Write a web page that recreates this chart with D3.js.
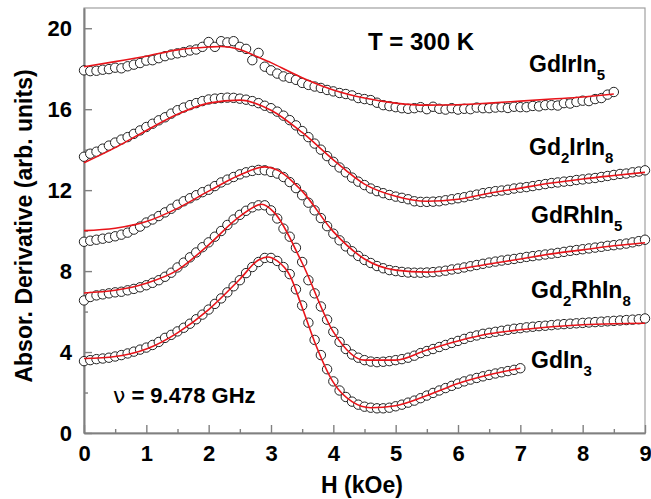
<!DOCTYPE html>
<html>
<head>
<meta charset="utf-8">
<script src="https://cdn.jsdelivr.net/npm/d3@7"></script>
<style>
  body { margin: 0; background: #fff; }
  text { font-family: Arial, "Liberation Sans", sans-serif; font-weight: bold; fill: #000; }
</style>
</head>
<body>
<div id="chart"></div>
<script>
var svgWidth = 651;
var svgHeight = 499;

var margin = { top: 8, right: 6, bottom: 66, left: 84 };
var width = svgWidth - margin.left - margin.right;
var height = svgHeight - margin.top - margin.bottom;

// measured points, one every 0.1 kOe starting at H = 0
var fieldStep = 0.1;

var ptsGdIrIn5 = [17.92, 17.88, 17.9, 17.95, 17.98, 18.05, 18.02, 18.12, 18.2, 18.28,
  18.4, 18.42, 18.52, 18.62, 18.7, 18.76, 18.82, 18.9, 18.95, 19.08,
  19.32, 19.08, 19.36, 19.3, 19.36, 19.08, 18.98, 18.42, 18.78, 18.1,
  17.92, 17.76, 17.62, 17.55, 17.45, 17.3, 17.2, 17.12, 17.05, 16.95,
  16.88, 16.8, 16.75, 16.68, 16.55, 16.5, 16.45, 16.32, 16.2, 16.15,
  16.1, 16.05, 16.02, 16.05, 16.1, 16.0, 16.12, 16.02, 15.98, 16.05,
  15.98, 16.02, 16.0, 16.08, 16.05, 16.05, 16.08, 16.1, 16.06, 16.12,
  16.1, 16.1, 16.16, 16.14, 16.2, 16.2, 16.18, 16.3, 16.28, 16.36,
  16.42, 16.4, 16.5, 16.55, 16.72, 16.85];

var ptsGd2IrIn8 = [13.65, 13.8, 13.9, 14.05, 14.2, 14.35, 14.5, 14.62, 14.78, 14.95,
  15.12, 15.28, 15.45, 15.6, 15.78, 15.95, 16.08, 16.2, 16.3, 16.4,
  16.48, 16.52, 16.55, 16.57, 16.56, 16.52, 16.47, 16.4, 16.3, 16.17,
  16.05, 15.88, 15.68, 15.46, 15.2, 14.92, 14.62, 14.3, 14.0, 13.68,
  13.4, 13.12, 12.88, 12.62, 12.42, 12.25, 12.08, 11.95, 11.85, 11.76,
  11.68, 11.62, 11.55, 11.45, 11.42, 11.42, 11.43, 11.45, 11.5, 11.55,
  11.6, 11.65, 11.72, 11.78, 11.85, 11.9, 11.95, 11.98, 12.02, 12.08,
  12.12, 12.15, 12.2, 12.25, 12.3, 12.35, 12.38, 12.42, 12.45, 12.5,
  12.53, 12.57, 12.6, 12.65, 12.7, 12.75, 12.8, 12.82, 12.88, 12.92, 12.98];

var ptsGdRhIn5 = [9.45, 9.5, 9.55, 9.6, 9.65, 9.72, 9.8, 9.9, 10.05, 10.2,
  10.4, 10.55, 10.72, 10.9, 11.08, 11.28, 11.45, 11.6, 11.75, 11.9,
  12.02, 12.2, 12.38, 12.52, 12.65, 12.78, 12.88, 12.95, 13.0, 12.98,
  12.9, 12.82, 12.65, 12.4, 12.1, 11.75, 11.38, 11.0, 10.62, 10.22,
  9.85, 9.52, 9.22, 8.98, 8.75, 8.55, 8.4, 8.25, 8.14, 8.05,
  8.0, 7.96, 7.93, 7.92, 7.92, 7.93, 7.95, 7.98, 8.02, 8.08,
  8.12, 8.18, 8.24, 8.3, 8.36, 8.42, 8.47, 8.52, 8.56, 8.6,
  8.65, 8.7, 8.74, 8.78, 8.82, 8.86, 8.9, 8.95, 9.0, 9.04,
  9.08, 9.12, 9.16, 9.2, 9.25, 9.28, 9.32, 9.36, 9.42, 9.48, 9.55];

var ptsGd2RhIn8 = [6.55, 6.72, 6.8, 6.85, 6.9, 6.95, 6.98, 7.05, 7.12, 7.2,
  7.3, 7.42, 7.55, 7.72, 7.92, 8.18, 8.42, 8.68, 8.92, 9.18,
  9.42, 9.7, 9.98, 10.28, 10.55, 10.78, 10.98, 11.15, 11.25, 11.25,
  11.0, 10.6, 10.1, 9.7, 9.15, 8.45, 7.55, 6.9, 6.25, 5.6,
  5.0, 4.5, 4.15, 3.88, 3.72, 3.6, 3.53, 3.5, 3.52, 3.55,
  3.6, 3.65, 3.72, 3.82, 3.95, 4.05, 4.15, 4.25, 4.35, 4.45,
  4.55, 4.65, 4.75, 4.82, 4.9, 4.95, 5.0, 5.05, 5.1, 5.15,
  5.18, 5.22, 5.25, 5.28, 5.3, 5.33, 5.36, 5.38, 5.4, 5.42,
  5.44, 5.46, 5.48, 5.5, 5.52, 5.54, 5.56, 5.58, 5.6, 5.62, 5.66];

var ptsGdIn3 = [3.55, 3.6, 3.65, 3.68, 3.72, 3.78, 3.85, 3.93, 4.02, 4.12,
  4.22, 4.35, 4.5, 4.7, 4.85, 5.02, 5.2, 5.4, 5.62, 5.85,
  6.1, 6.38, 6.65, 6.95, 7.25, 7.55, 7.9, 8.2, 8.45, 8.65,
  8.65, 8.5, 8.2, 7.85, 7.1, 6.3, 5.45, 4.6, 3.85, 3.15,
  2.55, 2.1, 1.78, 1.55, 1.4, 1.3, 1.25, 1.22, 1.22, 1.25,
  1.32, 1.4, 1.5, 1.6, 1.72, 1.85, 1.98, 2.1, 2.22, 2.33,
  2.44, 2.55, 2.64, 2.72, 2.8, 2.87, 2.94, 3.0, 3.06, 3.12, 3.2];

// fitted curves, [H, value]
var fitGdIrIn5 = [[0, 18.1], [0.5, 18.35], [1, 18.62], [1.5, 18.93], [2, 19.07], [2.2, 19.1],
  [2.5, 18.95], [2.77, 18.6], [3, 18.3], [3.3, 17.85], [3.6, 17.42], [4, 16.95], [4.5, 16.55],
  [5, 16.3], [5.5, 16.2], [6, 16.22], [6.5, 16.3], [7, 16.4], [7.5, 16.5], [8, 16.6], [8.5, 16.75]];

var fitGd2IrIn8 = [[0, 13.35], [0.5, 14.1], [1, 14.95], [1.5, 15.75], [2, 16.3], [2.5, 16.45],
  [3, 15.95], [3.5, 14.85], [4, 13.5], [4.5, 12.3], [5, 11.7], [5.5, 11.45], [6, 11.55],
  [6.5, 11.85], [7, 12.1], [7.5, 12.35], [8, 12.55], [8.5, 12.72], [9, 12.88]];

var fitGdRhIn5 = [[0, 10.0], [0.5, 10.12], [1, 10.45], [1.5, 11.1], [2, 11.95], [2.5, 12.75],
  [2.9, 13.15], [3.1, 13.0], [3.5, 11.95], [4, 9.95], [4.5, 8.6], [5, 8.05], [5.5, 7.95],
  [6, 8.1], [6.5, 8.35], [7, 8.6], [7.5, 8.85], [8, 9.05], [8.5, 9.25], [9, 9.4]];

var fitGd2RhIn8 = [[0, 6.92], [0.5, 7.05], [1, 7.4], [1.5, 8.05], [2, 9.3], [2.5, 10.7],
  [2.85, 11.3], [3.05, 10.9], [3.5, 8.4], [4, 5.0], [4.5, 3.6], [5, 3.6], [5.5, 4.1],
  [6, 4.55], [6.5, 4.9], [7, 5.1], [7.5, 5.25], [8, 5.35], [8.5, 5.4], [9, 5.42]];

var fitGdIn3 = [[0, 3.68], [0.5, 3.78], [1, 4.15], [1.5, 4.95], [2, 6.1], [2.5, 7.6],
  [2.8, 8.55], [2.95, 8.7], [3.1, 8.5], [3.3, 7.8], [3.5, 6.2], [3.7, 4.5], [4, 2.5],
  [4.3, 1.55], [4.6, 1.25], [5, 1.35], [5.5, 1.85], [6, 2.45], [6.5, 2.88], [7, 3.2]];

var seriesNames = [["Gd", "", "IrIn", "5"], ["Gd", "2", "IrIn", "8"], ["Gd", "", "RhIn", "5"],
  ["Gd", "2", "RhIn", "8"], ["Gd", "", "In", "3"]];
var labelPos = [[529, 72], [529, 155], [531, 223], [531, 298], [531, 368]];

var xTicks = [0, 1, 2, 3, 4, 5, 6, 7, 8, 9];
var xMinor = [0.5, 1.5, 2.5, 3.5, 4.5, 5.5, 6.5, 7.5, 8.5];
var yTicks = [0, 4, 8, 12, 16, 20];
var yMinor = [2, 6, 10, 14, 18];

var allPts = [ptsGdIrIn5, ptsGd2IrIn8, ptsGdRhIn5, ptsGd2RhIn8, ptsGdIn3];
var allFits = [fitGdIrIn5, fitGd2IrIn8, fitGdRhIn5, fitGd2RhIn8, fitGdIn3];

var svg = d3.select("#chart")
  .append("svg")
  .attr("width", svgWidth)
  .attr("height", svgHeight);

var chartGroup = svg.append("g")
  .attr("transform", `translate(${margin.left}, ${margin.top})`);

var xLinearScale = d3.scaleLinear().domain([0, 9]).range([0, width]);
var yLinearScale = d3.scaleLinear().domain([0, 21]).range([height, 0]);

// frame
chartGroup.append("rect")
  .attr("width", width)
  .attr("height", height)
  .attr("fill", "none")
  .attr("stroke", "#a0a0a0")
  .attr("stroke-width", 1.2);

// axes, ticks point inward
var bottomAxis = d3.axisBottom(xLinearScale).tickValues(xTicks).tickSize(-8).tickSizeOuter(0).tickPadding(12);
var bottomMinor = d3.axisBottom(xLinearScale).tickValues(xMinor).tickSize(-4).tickSizeOuter(0).tickFormat("");
var leftAxis = d3.axisLeft(yLinearScale).tickValues(yTicks).tickSize(-8).tickSizeOuter(0).tickPadding(12);
var leftMinor = d3.axisLeft(yLinearScale).tickValues(yMinor).tickSize(-4).tickSizeOuter(0).tickFormat("");

chartGroup.append("g").attr("transform", `translate(0, ${height})`).call(bottomAxis);
chartGroup.append("g").attr("transform", `translate(0, ${height})`).call(bottomMinor);
chartGroup.append("g").call(leftAxis);
chartGroup.append("g").call(leftMinor);

chartGroup.selectAll(".domain").attr("stroke", "#808080").attr("stroke-width", 1.6);
chartGroup.selectAll(".tick line").attr("stroke", "#808080").attr("stroke-width", 1.4);
chartGroup.selectAll(".tick text")
  .style("font-size", "22px")
  .style("font-family", "Arial, 'Liberation Sans', sans-serif")
  .style("font-weight", "bold")
  .attr("fill", "#000");

// data circles then fitted lines
var line = d3.line()
  .x(d => xLinearScale(d[0]))
  .y(d => yLinearScale(d[1]))
  .curve(d3.curveMonotoneX);

allPts.forEach(function(pts) {
  chartGroup.append("g")
    .selectAll("circle")
    .data(pts)
    .enter()
    .append("circle")
    .attr("cx", (d, i) => xLinearScale(i * fieldStep))
    .attr("cy", d => yLinearScale(d))
    .attr("r", 4.7)
    .attr("fill", "#fff")
    .attr("stroke", "#222")
    .attr("stroke-width", 1);
});

allFits.forEach(function(fit) {
  chartGroup.append("path")
    .datum(fit)
    .attr("d", line)
    .attr("fill", "none")
    .attr("stroke", "#e8141a")
    .attr("stroke-width", 1.6);
});

// compound names with subscripts
seriesNames.forEach(function(n, i) {
  var t = svg.append("text")
    .attr("x", labelPos[i][0])
    .attr("y", labelPos[i][1])
    .style("font-size", "23px");
  t.append("tspan").text(n[0]);
  if (n[1]) {
    t.append("tspan").attr("dy", 8).style("font-size", "15px").text(n[1]);
    t.append("tspan").attr("dy", -8).text(n[2]);
  } else {
    t.append("tspan").text(n[2]);
  }
  t.append("tspan").attr("dy", 8).style("font-size", "15px").text(n[3]);
});

svg.append("text")
  .attr("x", 368)
  .attr("y", 50)
  .style("font-size", "24px")
  .text("T = 300 K");

var nu = svg.append("text")
  .attr("x", 113)
  .attr("y", 403)
  .style("font-size", "22px");
nu.append("tspan").style("font-weight", "normal").style("font-family", "'DejaVu Sans', sans-serif").text("ν");
nu.append("tspan").text(" = 9.478 GHz");

// axes labels
svg.append("text")
  .attr("transform", "rotate(-90)")
  .attr("x", -226)
  .attr("y", 32)
  .attr("text-anchor", "middle")
  .style("font-size", "23px")
  .text("Absor. Derivative (arb. units)");

svg.append("text")
  .attr("x", 362)
  .attr("y", 493)
  .attr("text-anchor", "middle")
  .style("font-size", "23px")
  .text("H (kOe)");
</script>
</body>
</html>
